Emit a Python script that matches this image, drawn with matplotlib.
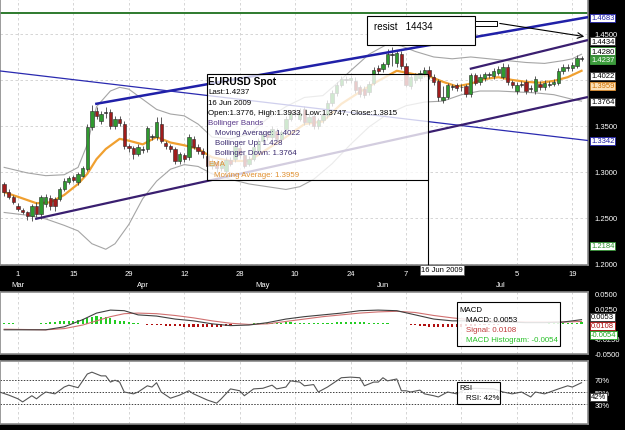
import numpy as np
import matplotlib
matplotlib.use("Agg")
import matplotlib.pyplot as plt
import matplotlib.transforms as mtrans
from matplotlib.patches import Rectangle

plt.rcParams['font.family'] = ['Liberation Sans', 'DejaVu Sans']

# ---- data (candle index 0 = 1 Mar 2009, 12 candles per 2 weeks) ----
idx = np.arange(-3, 123)

opens = [1.287, 1.278, 1.273, 1.263, 1.259, 1.256, 1.252, 1.263, 1.254, 1.265,
         1.272, 1.271, 1.271, 1.281, 1.289, 1.295, 1.289, 1.296, 1.303, 1.349,
         1.366, 1.355, 1.365, 1.365, 1.350, 1.358, 1.352, 1.328, 1.326, 1.320,
         1.325, 1.325, 1.338, 1.338, 1.352, 1.331, 1.328, 1.325, 1.312, 1.318,
         1.316, 1.336, 1.327, 1.323, 1.317, 1.306, 1.311, 1.304, 1.301, 1.313,
         1.314, 1.326, 1.318, 1.309, 1.314, 1.323, 1.334, 1.341, 1.338, 1.345,
         1.336, 1.347, 1.358, 1.363, 1.358, 1.368, 1.354, 1.361, 1.350, 1.356,
         1.362, 1.375, 1.386, 1.395, 1.401, 1.400, 1.399, 1.392, 1.390, 1.387,
         1.397, 1.413, 1.412, 1.417, 1.428, 1.418, 1.428, 1.415, 1.393, 1.400,
         1.402, 1.406, 1.411, 1.403, 1.399, 1.378, 1.382, 1.393, 1.394, 1.392,
         1.393, 1.385, 1.405, 1.398, 1.402, 1.405, 1.404, 1.408, 1.403, 1.414,
         1.398, 1.388, 1.395, 1.398, 1.390, 1.388, 1.396, 1.392, 1.395, 1.396,
         1.397, 1.410, 1.413, 1.413, 1.415, 1.423]
highs = [1.289, 1.281, 1.275, 1.266, 1.261, 1.258, 1.265, 1.267, 1.275, 1.276,
         1.275, 1.273, 1.284, 1.293, 1.296, 1.297, 1.300, 1.307, 1.352, 1.373,
         1.371, 1.366, 1.371, 1.368, 1.361, 1.361, 1.355, 1.330, 1.328, 1.330,
         1.328, 1.350, 1.341, 1.360, 1.360, 1.334, 1.330, 1.327, 1.322, 1.321,
         1.341, 1.339, 1.330, 1.326, 1.320, 1.314, 1.313, 1.313, 1.316, 1.316,
         1.331, 1.329, 1.320, 1.317, 1.330, 1.337, 1.344, 1.344, 1.350, 1.348,
         1.346, 1.361, 1.367, 1.368, 1.370, 1.372, 1.363, 1.364, 1.359, 1.365,
         1.378, 1.389, 1.398, 1.404, 1.404, 1.405, 1.403, 1.395, 1.393, 1.399,
         1.414, 1.416, 1.420, 1.434, 1.436, 1.432, 1.431, 1.418, 1.406, 1.408,
         1.411, 1.414, 1.415, 1.406, 1.401, 1.393, 1.397, 1.396, 1.397, 1.396,
         1.396, 1.408, 1.408, 1.406, 1.409, 1.409, 1.413, 1.415, 1.418, 1.417,
         1.400, 1.398, 1.399, 1.401, 1.394, 1.404, 1.399, 1.400, 1.399, 1.401,
         1.413, 1.417, 1.417, 1.419, 1.427, 1.426]
lows = [1.274, 1.271, 1.265, 1.258, 1.254, 1.248, 1.247, 1.251, 1.249, 1.262,
        1.259, 1.258, 1.268, 1.279, 1.287, 1.289, 1.286, 1.294, 1.301, 1.346,
        1.358, 1.352, 1.359, 1.347, 1.347, 1.350, 1.325, 1.322, 1.314, 1.317,
        1.321, 1.322, 1.335, 1.335, 1.331, 1.325, 1.322, 1.309, 1.309, 1.311,
        1.313, 1.325, 1.320, 1.315, 1.302, 1.303, 1.300, 1.301, 1.298, 1.306,
        1.311, 1.315, 1.304, 1.306, 1.312, 1.320, 1.331, 1.335, 1.335, 1.333,
        1.333, 1.344, 1.355, 1.360, 1.355, 1.351, 1.351, 1.347, 1.347, 1.353,
        1.359, 1.372, 1.383, 1.392, 1.397, 1.397, 1.386, 1.382, 1.380, 1.384,
        1.394, 1.407, 1.409, 1.414, 1.415, 1.414, 1.412, 1.392, 1.390, 1.397,
        1.399, 1.403, 1.401, 1.394, 1.377, 1.375, 1.379, 1.389, 1.388, 1.388,
        1.382, 1.382, 1.394, 1.394, 1.399, 1.402, 1.401, 1.405, 1.401, 1.395,
        1.391, 1.385, 1.392, 1.385, 1.387, 1.385, 1.389, 1.389, 1.392, 1.393,
        1.395, 1.407, 1.410, 1.410, 1.413, 1.421]
closes = [1.278, 1.273, 1.267, 1.260, 1.256, 1.252, 1.263, 1.254, 1.273, 1.273,
          1.263, 1.263, 1.281, 1.290, 1.293, 1.291, 1.298, 1.304, 1.349, 1.366,
          1.361, 1.363, 1.364, 1.350, 1.358, 1.353, 1.328, 1.326, 1.320, 1.327,
          1.324, 1.348, 1.338, 1.354, 1.334, 1.328, 1.325, 1.312, 1.320, 1.314,
          1.338, 1.327, 1.323, 1.320, 1.306, 1.311, 1.304, 1.311, 1.313, 1.309,
          1.328, 1.318, 1.307, 1.314, 1.327, 1.334, 1.341, 1.338, 1.347, 1.336,
          1.343, 1.358, 1.364, 1.364, 1.364, 1.354, 1.360, 1.350, 1.356, 1.362,
          1.375, 1.386, 1.395, 1.401, 1.400, 1.402, 1.389, 1.385, 1.384, 1.396,
          1.411, 1.410, 1.417, 1.428, 1.427, 1.429, 1.415, 1.395, 1.403, 1.405,
          1.408, 1.411, 1.404, 1.398, 1.381, 1.382, 1.394, 1.392, 1.391, 1.392,
          1.385, 1.405, 1.397, 1.403, 1.406, 1.406, 1.410, 1.412, 1.414, 1.398,
          1.394, 1.395, 1.396, 1.388, 1.391, 1.401, 1.392, 1.397, 1.396, 1.398,
          1.410, 1.414, 1.414, 1.416, 1.424, 1.424]

# Bollinger bands and EMA, read at sparse candles
bb_idx = [-3, 2, 6, 10, 13, 15, 17, 20, 22, 24, 27, 30, 33, 36, 39, 42, 46, 50,
          54, 58, 62, 66, 69, 72, 76, 80, 83, 86, 90, 94, 98, 102, 106, 110,
          114, 118, 120, 122]
bb_up = [1.305, 1.299, 1.296, 1.297, 1.305, 1.330, 1.371, 1.388, 1.392, 1.390,
         1.379, 1.368, 1.363, 1.361, 1.352, 1.338, 1.336, 1.341, 1.358, 1.371,
         1.381, 1.383, 1.396, 1.410, 1.428, 1.439, 1.437, 1.431, 1.425, 1.423,
         1.425, 1.423, 1.421, 1.419, 1.418, 1.421, 1.423, 1.428]
bb_lo_idx = [-3, 2, 6, 10, 13, 16, 19, 21, 24, 27, 30, 33, 36, 39, 42, 46, 50,
             54, 58, 61, 64, 68, 72, 76, 80, 84, 88, 92, 96, 100, 104, 108, 112,
             116, 120, 122]
bb_lo = [1.256, 1.253, 1.249, 1.242, 1.236, 1.222, 1.216, 1.222, 1.243, 1.271,
         1.290, 1.303, 1.308, 1.306, 1.298, 1.292, 1.287, 1.284, 1.281, 1.284,
         1.292, 1.309, 1.330, 1.349, 1.363, 1.372, 1.376, 1.377, 1.384, 1.388,
         1.388, 1.387, 1.386, 1.384, 1.379, 1.377]
ema_idx = [-3, 0, 4, 7, 10, 13, 15, 17, 19, 22, 24, 27, 30, 33, 36, 39, 42, 46,
           50, 54, 58, 62, 66, 70, 74, 78, 82, 86, 89, 92, 95, 98, 101, 104,
           107, 110, 113, 116, 119, 122]
ema = [1.278, 1.273, 1.266, 1.267, 1.275, 1.287, 1.298, 1.314, 1.325, 1.336,
       1.334, 1.330, 1.338, 1.332, 1.329, 1.325, 1.316, 1.312, 1.312, 1.325,
       1.338, 1.352, 1.355, 1.374, 1.387, 1.399, 1.410, 1.406, 1.404, 1.398,
       1.393, 1.396, 1.401, 1.403, 1.400, 1.398, 1.397, 1.399, 1.403, 1.410]

# drawn lines: (start index, start price, end index, end price)
resist_level = 1.4728
channel_top = (16.7, 1.3739, 123.4, 1.4683)
down_line = (-3.9, 1.4098, 123.4, 1.3342)
channel_bottom = (3.7, 1.2489, 123.4, 1.3815)
resist_line = (97.8, 1.412, 123.4, 1.4434)

# MACD
macd_idx = [-3, 6, 10, 14, 17, 20, 23, 26, 30, 34, 38, 42, 46, 50, 54, 58, 62,
            66, 70, 74, 78, 82, 86, 90, 94, 98, 102, 106, 110, 114, 118, 122]
macd = [-0.010, -0.010, -0.005, 0.007, 0.018, 0.023, 0.022, 0.015, 0.013, 0.008,
        0.005, 0.000, -0.003, -0.002, 0.002, 0.008, 0.012, 0.015, 0.018, 0.022,
        0.023, 0.022, 0.015, 0.008, 0.005, 0.005, 0.003, 0.003, 0.002, 0.002,
        0.003, 0.007]
signal = [-0.009, -0.010, -0.008, -0.002, 0.005, 0.012, 0.017, 0.018, 0.017,
          0.014, 0.010, 0.005, 0.001, -0.001, 0.000, 0.004, 0.008, 0.012, 0.015,
          0.018, 0.020, 0.021, 0.019, 0.014, 0.010, 0.007, 0.005, 0.004, 0.003,
          0.003, 0.003, 0.004]
macd_hist = [0.001, 0.001, 0.001,
             0.0003, 0.0003, 0.0003, 0.0003, 0.0003,
             0.002, 0.002, 0.003, 0.003, 0.004, 0.004, 0.005, 0.005, 0.006,
             0.008, 0.009, 0.011, 0.013, 0.012, 0.011, 0.009,
             0.007, 0.005, 0.004, 0.003, 0.002, 0.001,
             -0.001, -0.0015, -0.002, -0.002, -0.0025, -0.003, -0.003, -0.0035,
             -0.004, -0.0045, -0.0045, -0.005, -0.0055, -0.006, -0.006, -0.006,
             -0.0055, -0.0045, -0.003, -0.002, -0.001,
             -0.0005, 0.0003, 0.0003,
             0.001, 0.001, 0.0015, 0.0015, 0.002, 0.002, 0.002, 0.0025, 0.0025,
             0.002, 0.002, 0.002, 0.002, 0.0015, 0.0015, 0.0015,
             0.002, 0.002, 0.0025, 0.0025, 0.003, 0.003, 0.003, 0.0025, 0.0025,
             0.002, 0.002, 0.0015, 0.001, 0.001,
             0.0005, 0.0003, -0.0003, -0.001, -0.0015,
             -0.002, -0.003, -0.004, -0.0045, -0.005, -0.0055, -0.006,
             -0.006, -0.0055, -0.005, -0.0045, -0.004, -0.0035, -0.003, -0.0025,
             -0.002, -0.002, -0.0015, -0.0015, -0.001, -0.001, -0.001, -0.0005,
             -0.0005, -0.0003, 0.0003, 0.0003, 0.0005, 0.0005, 0.001,
             0.001, 0.001, 0.0015, 0.0015, 0.002, 0.002, 0.0025]

# RSI
rsi_idx = [-4, -2, 0, 1, 3, 4, 5, 6, 8, 10, 11, 13, 14, 15, 16, 18, 19, 20, 21,
           22, 23, 25, 26, 28, 29, 30, 31, 33, 35, 37, 38, 41, 43, 44, 46, 48,
           49, 51, 53, 55, 56, 58, 59, 61, 62, 64, 65, 67, 68, 70, 72, 74, 75,
           77, 78, 79, 80, 82, 83, 84, 85, 87, 88, 90, 91, 93, 95, 97, 99, 103,
           105, 107, 109, 111, 112, 114, 117, 119, 120, 122]
rsi = [50, 45, 39, 34, 44, 39, 45, 50, 47, 58, 61, 57, 68, 79, 82, 76, 76, 66,
       69, 66, 50, 47, 50, 60, 58, 65, 50, 40, 45, 52, 47, 37, 32, 39, 55, 52,
       44, 55, 56, 61, 55, 58, 68, 66, 60, 62, 50, 58, 63, 73, 74, 73, 60, 66,
       66, 73, 68, 71, 52, 52, 50, 53, 47, 44, 42, 50, 47, 55, 56, 55, 50, 47,
       50, 42, 50, 47, 55, 60, 58, 65]

grid_idx = list(range(0, 121, 12))
# the "21" label is covered by the crosshair date in the original
day_labels = ["1", "15", "29", "12", "28", "10", "24", "7", "", "5", "19"]
month_idx = [0, 27, 53, 79, 104.5]
month_labels = ["Mar", "Apr", "May", "Jun", "Jul"]

# ---- figure ----
W, H = 625, 431
fig = plt.figure(figsize=(6.25, 4.31), dpi=100, facecolor="black")


def px_axes(x0, y0, x1, y1):
    return fig.add_axes([x0 / W, 1 - y1 / H, (x1 - x0) / W, (y1 - y0) / H])


ax = px_axes(0, 0, 588, 266)
ax_m = px_axes(0, 293, 588, 355)
ax_r = px_axes(0, 362, 588, 425)

xlim = (-3.9, 123.4)
for a in (ax, ax_m, ax_r):
    a.set_facecolor("white")
    a.set_xlim(*xlim)
    a.set_xticks(grid_idx)
    a.tick_params(axis="x", length=0, labelbottom=False)
    a.yaxis.tick_right()
    a.tick_params(axis="y", colors="white", labelsize=5.5, length=0, pad=5)
    a.grid(axis="x", color="#cfcfcf", ls=(0, (3, 3)), lw=0.6)
    a.set_axisbelow(True)
    for s in a.spines.values():
        s.set_color("#8a8a8a")
        s.set_linewidth(1.2)

# main price panel (1.4000 label sits under the value tags, so left blank)
ax.set_ylim(1.1989, 1.488)
yt = [1.20, 1.25, 1.30, 1.35, 1.40, 1.45]
ax.set_yticks(yt)
ax.set_yticklabels(["" if v == 1.40 else f"{v:.4f}" for v in yt])
ax.grid(axis="y", color="#cfcfcf", ls=(0, (3, 3)), lw=0.6)

ax.axhline(resist_level, color="#2d7a2d", lw=1.4, zorder=2)
ax.plot(bb_idx, bb_up, color="#a5a5a5", lw=0.8, zorder=2)
ax.plot(bb_lo_idx, bb_lo, color="#a5a5a5", lw=0.8, zorder=2)
ax.plot(ema_idx, ema, color="#f0a030", lw=1.6, zorder=3)

o = np.array(opens)
c = np.array(closes)
col = np.where(c >= o, "#2f9a2f", "#a01c1c")
col = np.where(np.abs(c - o) < 0.0015, "#333333", col)
ax.vlines(idx, lows, highs, color="#404040", lw=0.6, zorder=4)
ax.bar(idx, np.maximum(np.abs(c - o), 0.0009), bottom=np.minimum(o, c),
       width=0.72, color=col, edgecolor="#2a2a2a", lw=0.4, zorder=5)

for (x0, y0, x1, y1), colr, lw in [(channel_top, "#2020a8", 1.8),
                                   (down_line, "#2a2ab0", 0.9),
                                   (channel_bottom, "#3a1f70", 1.6),
                                   (resist_line, "#3a1f70", 1.6)]:
    ax.plot([x0, x1], [y0, y1], color=colr, lw=lw, zorder=6, solid_capstyle="butt")

# MACD panel
ax_m.set_ylim(-0.0505, 0.0533)
mt = [-0.05, -0.025, 0.0, 0.025, 0.05]
ax_m.set_yticks(mt)
ax_m.set_yticklabels(["" if v == 0.0 else f"{v:.4f}" for v in mt])
h = np.array(macd_hist)
ax_m.bar(idx, h, width=0.45, color=np.where(h >= 0, "#22cc22", "#b01010"), zorder=3)
ax_m.plot(macd_idx, signal, color="#d07070", lw=0.8, zorder=4)
ax_m.plot(macd_idx, macd, color="#404040", lw=0.8, zorder=4)

# RSI panel
ax_r.set_ylim(-1.6, 100)
ax_r.set_yticks([30, 50, 70])
ax_r.set_yticklabels(["30%", "50%", "70%"])
for lv in (30, 50, 70):
    ax_r.axhline(lv, color="#404040", ls=(0, (1.5, 1.5)), lw=0.7, zorder=2)
ax_r.plot(rsi_idx, rsi, color="#555555", lw=0.8, zorder=3)

# ---- overlay in pixel coordinates for boxes / labels ----
ov = fig.add_axes([0, 0, 1, 1], facecolor="none")
ov.set_xlim(0, W)
ov.set_ylim(H, 0)
ov.axis("off")
xt = mtrans.blended_transform_factory(ax.transData, ov.transData)

for p, lab in zip(grid_idx, day_labels):
    ov.text(p, 275, lab, transform=xt, color="white", ha="center", va="center", fontsize=5.5)
for p, lab in zip(month_idx, month_labels):
    ov.text(p, 286, lab, transform=xt, color="white", ha="center", va="center", fontsize=5.5)

# crosshair + date label
ov.plot([428, 428], [181, 266], color="black", lw=0.8)
ov.text(442, 271, "16 Jun 2009", ha="center", va="center", fontsize=5.5, color="black",
        bbox=dict(boxstyle="square,pad=0.15", fc="white", ec="#555555", lw=0.5))

# info box
ov.add_patch(Rectangle((207, 75), 221, 106, fc=(1, 1, 1, 0.78), ec="black", lw=0.8))
ov.text(208, 82, "EURUSD Spot", fontsize=7.3, fontweight="bold", va="center")
info = [(208, 93, "Last:1.4237", "black"),
        (208, 103.5, "16 Jun 2009", "black"),
        (208, 113.5, "Open:1.3776, High:1.3933, Low:1.3747, Close:1.3815", "black"),
        (208, 123.5, "Bollinger Bands", "#5a3a8a"),
        (215, 133.5, "Moving Average: 1.4022", "#3c2c70"),
        (215, 143.5, "Bollinger Up: 1.428", "#3c2c70"),
        (215, 154, "Bollinger Down: 1.3764", "#3c2c70"),
        (208, 165, "EMA", "#e09030"),
        (214, 176, "Moving Average: 1.3959", "#e09030")]
for x, y, t, colr in info:
    ov.text(x, y, t, fontsize=5.7, color=colr, va="center")

# resist note with arrow
ov.add_patch(Rectangle((367, 17), 108, 29, fc="white", ec="black", lw=0.8))
ov.text(374, 27, "resist   14434", fontsize=7, va="center")
ov.add_patch(Rectangle((475, 22), 22, 5, fc="white", ec="black", lw=0.7))
ov.annotate("", xy=(587, 38), xytext=(497, 24),
            arrowprops=dict(arrowstyle="->", color="black", lw=0.8))

# MACD info box
ov.add_patch(Rectangle((457, 303), 103, 44, fc=(1, 1, 1, 0.85), ec="black", lw=0.8))
for x, y, t, colr in [(459, 311, "MACD", "black"),
                      (466, 321, "MACD: 0.0053", "black"),
                      (466, 331, "Signal: 0.0108", "#c03a3a"),
                      (466, 341, "MACD Histogram: -0.0054", "#28c028")]:
    ov.text(x, y, t, fontsize=5.7, color=colr, va="center")

# RSI info box
ov.add_patch(Rectangle((457, 383), 43, 22, fc=(1, 1, 1, 0.85), ec="black", lw=0.8))
ov.text(459, 389, "RSI", fontsize=5.7, va="center")
ov.text(466, 399, "RSI: 42%", fontsize=5.7, va="center")

# value tags on the right axis
tags = [(19, "1.4683", "white", "#2020a8", "#2020a8"),
        (42, "1.4434", "white", "#333333", "black"),
        (61, "1.4237", "#3c9c3c", "#3c9c3c", "white"),
        (52, "1.4280", "white", "#2f8f2f", "black"),
        (77, "1.4022", "white", "#333333", "black"),
        (87, "1.3959", "#fbe0b8", "#e09030", "#d07000"),
        (103, "1.3764", "white", "#333333", "black"),
        (142, "1.3342", "white", "#2020a8", "#2020a8"),
        (247, "1.2184", "white", "#2f8f2f", "#2f8f2f"),
        (318, "0.0053", "white", "#333333", "black"),
        (327, "0.0108", "white", "#b01010", "#b01010"),
        (336, "-0.0054", "white", "#22aa22", "#22aa22"),
        (398, "42%", "white", "#333333", "black")]
for y, t, fc, ec, tc in tags:
    ov.text(591, y, t, fontsize=5.5, color=tc, va="center", ha="left",
            bbox=dict(boxstyle="square,pad=0.12", fc=fc, ec=ec, lw=0.6))

fig.savefig("out.png", dpi=100, facecolor="black")
